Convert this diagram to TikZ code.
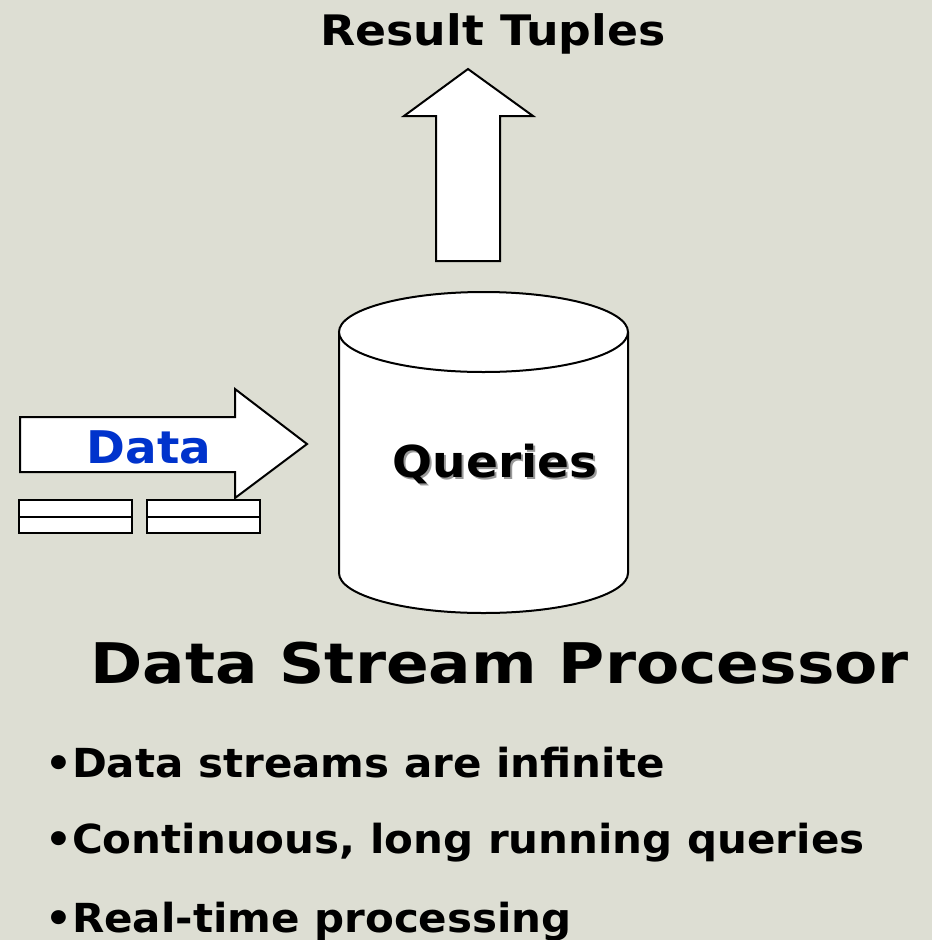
\documentclass[tikz,border=0pt]{standalone}
\usepackage{fontspec}
\setmainfont{DejaVu Sans}
\definecolor{bgc}{RGB}{221,222,211}
\definecolor{datablue}{RGB}{0,51,204}
\begin{document}
\begin{tikzpicture}[x=1pt,y=-1pt,
  shapeline/.style={draw=black,line width=2pt,fill=white,line join=miter},
  bold/.style={inner sep=0pt}]
\fill[bgc] (0,0) rectangle (932,940);
\useasboundingbox (0,0) rectangle (932,940);

% Result tuples arrow (up)
\draw[shapeline] (436,261) -- (436,116) -- (404,116) -- (468,69) -- (533,116) -- (500,116) -- (500,261) -- cycle;
\node[bold,anchor=base,xscale=1.09,font=\fontsize{42}{42}\selectfont\bfseries] (result) at (493,45) {Result Tuples};

% Cylinder
\coordinate (cyl) at (483.5,332);
\draw[shapeline] (339,332) -- (339,573) arc[start angle=180,end angle=0,x radius=144.5,y radius=40] -- (628,332);
\draw[shapeline] (cyl) ellipse[x radius=144.5,y radius=40];
\node[bold,anchor=base,xscale=1.07,font=\fontsize{44}{44}\selectfont\bfseries] (queries) at (495,477)
  {\makebox[0pt][l]{\hspace{2pt}\raisebox{-2pt}{\color{black!40}Queries}}Queries};

% Data arrow
\draw[shapeline] (20,417) -- (235,417) -- (235,389) -- (307,444) -- (235,498) -- (235,472) -- (20,472) -- cycle;
\node[bold,anchor=base,xscale=1.04,text=datablue,font=\fontsize{45}{45}\selectfont\bfseries] (data) at (149,463) {Data};

% stream tuples
\draw[draw=black,line width=2pt,fill=white] (19,500) rectangle (132,533);
\draw[black,line width=2pt] (19,517) -- (132,517);
\draw[draw=black,line width=2pt,fill=white] (147,500) rectangle (260,533);
\draw[black,line width=2pt] (147,517) -- (260,517);

% Title
\node[bold,anchor=base west,xscale=1.125,font=\fontsize{56}{56}\selectfont\bfseries] (title) at (90,683) {Data Stream Processor};

% Bullets
\node[bold,anchor=base west,xscale=1.05,font=\fontsize{40}{40}\selectfont\bfseries] (b1) at (45,777) {•Data streams are infinite};
\node[bold,anchor=base west,xscale=1.05,font=\fontsize{40}{40}\selectfont\bfseries] (b2) at (45,853) {•Continuous, long running queries};
\node[bold,anchor=base west,xscale=1.05,font=\fontsize{40}{40}\selectfont\bfseries] (b3) at (45,932) {•Real-time processing};
\end{tikzpicture}
\end{document}
